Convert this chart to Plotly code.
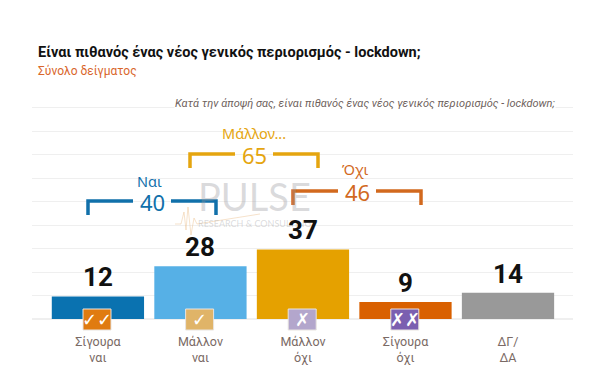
import plotly.graph_objects as go

categories = ["Σίγουρα<br>ναι", "Μάλλον<br>ναι", "Μάλλον<br>όχι", "Σίγουρα<br>όχι", "ΔΓ/<br>ΔΑ"]
values = [12, 28, 37, 9, 14]
bar_colors = ["#0A72B0", "#56B0E6", "#E5A100", "#D96000", "#999999"]
group_names = ["Ναι", "Μάλλον...", "Όχι"]
group_totals = [40, 65, 46]
group_colors = ["#1170AA", "#E5A50F", "#D2691E"]
icon_marks = ["✓✓", "✓", "✗", "✗✗"]
icon_colors = ["#E07B10", "#E0B468", "#B3A6CC", "#7B5FB0"]

NARROW = "Roboto, sans-serif"
L, R, T, B = 32, 573, 84, 319
def px(x): return (x - L) / (R - L)
def py(y): return (B - y) / (B - T)

fig = go.Figure(go.Bar(x=list(range(5)), y=values, marker_color=bar_colors, width=0.9,
                       marker_line_width=0, hoverinfo="skip"))

ann = []
def text(x, y, s, size, color, bold=False, italic=False, anchor="center", bg=None, family=NARROW):
    if bold: s = f"<b>{s}</b>"
    if italic: s = f"<i>{s}</i>"
    ann.append(dict(xref="paper", yref="paper", x=px(x), y=py(y), text=s, showarrow=False,
                    xanchor=anchor, yanchor="middle", font=dict(size=size, color=color, family=family),
                    bgcolor=bg, borderpad=0))

text(37, 52, "Είναι πιθανός ένας νέος γενικός περιορισμός - lockdown;", 14.5, "#111111", bold=True, anchor="left")
text(37, 71, "Σύνολο δείγματος", 12, "#D9662B", anchor="left")
text(556, 103, "Κατά την άποψή σας, είναι πιθανός ένας νέος γενικός περιορισμός - lockdown;", 11, "#6E5F5C",
     italic=True, anchor="right", bg="#FFFFFF")

# watermark
text(254, 196, "PULSE", 38, "rgba(150,150,155,0.35)", family="Lato, sans-serif")
text(254, 223, "RESEARCH &amp; CONSULTING", 9, "rgba(150,150,155,0.35)", family="Lato, sans-serif")

shapes = []
def line(pts, color, w):
    path = "M" + " L".join(f"{px(a):.5f},{py(b):.5f}" for a, b in pts)
    shapes.append(dict(type="path", xref="paper", yref="paper", path=path,
                       line=dict(color=color, width=w), layer="above"))

line([(175, 224), (181, 224), (184, 212), (186, 230), (188, 207), (191, 235), (194, 218), (197, 224), (260, 214)],
     "rgba(235,190,140,0.45)", 1)

# brackets: left x, top y, name x/y
geom = [(87, 201, 149, 181), (189, 154, 254, 133), (292, 191, 355, 169)]
for (x0, y0, nx, ny), name, tot, col in zip(geom, group_names, group_totals, group_colors):
    xc = x0 + 65
    line([(x0 + 1, y0 + 14), (x0 + 1, y0), (xc - 19, y0)], col, 3.5)
    line([(xc + 19, y0), (x0 + 129, y0), (x0 + 129, y0 + 14)], col, 3.5)
    text(xc, y0 + 1, str(tot), 22, col, family="'Noto Sans', sans-serif")
    text(nx, ny, name, 14.5, col, family="'Noto Sans', sans-serif")

# value labels
for i, v in enumerate(values):
    ann.append(dict(x=i, y=v, xref="x", yref="y", text=f"<b>{v}</b>", showarrow=False, yanchor="bottom",
                    yshift=2, font=dict(size=26, color="#111111", family=NARROW)))

# icons
for i, (m, c) in enumerate(zip(icon_marks, icon_colors)):
    xc = 98 + i * 102.6 - 1
    shapes.append(dict(type="rect", xref="paper", yref="paper", x0=px(xc - 14), x1=px(xc + 14),
                       y0=py(330), y1=py(309), fillcolor=c, line=dict(color="#E8E4E0", width=1), layer="above"))
    text(xc, 319.5, m, 18, "#FFFFFF", bold=True, family="'DejaVu Sans', sans-serif")

# The page body sits 8 px in from the window edge, so the figure is 8 px smaller
fig.update_layout(
    width=592, height=361, autosize=False, showlegend=False,
    paper_bgcolor="#FFFFFF", plot_bgcolor="#FFFFFF",
    margin=dict(l=L - 8, r=600 - R, t=T - 8, b=369 - B, pad=0),
    annotations=ann, shapes=shapes,
    xaxis=dict(range=[-0.643, 4.634], tickmode="array", tickvals=list(range(5)), ticktext=categories,
               showgrid=False, zeroline=False, ticks="outside", ticklen=11, tickcolor="rgba(0,0,0,0)",
               showline=False, automargin=False,
               tickfont=dict(size=12.5, color="#7A6A65", family=NARROW)),
    yaxis=dict(range=[0, 125], dtick=12.5, showticklabels=False, gridcolor="#EFEFEF", gridwidth=1,
               zeroline=True, zerolinecolor="#EFEFEF", ticks="", fixedrange=True, automargin=False),
)
fig.write_html("out.html", config={"displayModeBar": False})
